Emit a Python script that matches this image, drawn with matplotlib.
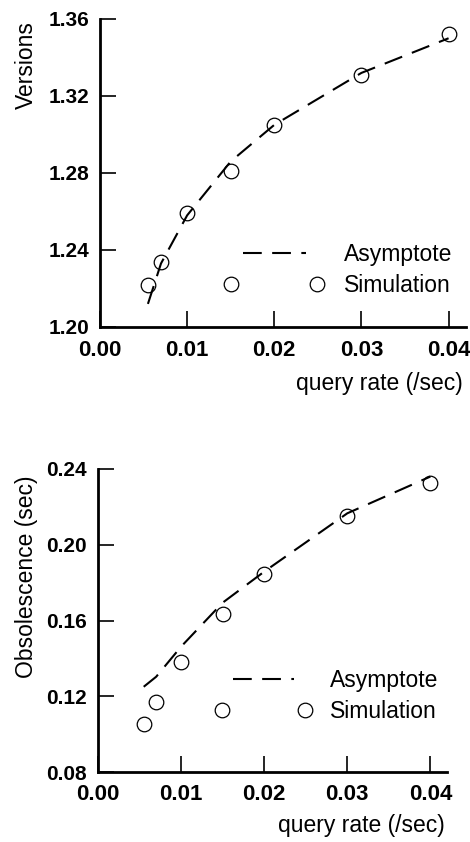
import matplotlib
matplotlib.use("Agg")
import matplotlib.pyplot as plt
from matplotlib.legend_handler import HandlerLine2D
import numpy as np

plt.rcParams['font.family'] = ['Liberation Sans', 'DejaVu Sans']

# ---- data ----
query_rate = [0.0055, 0.007, 0.010, 0.015, 0.020, 0.030, 0.040]

versions_sim = [1.222, 1.234, 1.259, 1.281, 1.305, 1.331, 1.352]
versions_asym = [1.212, 1.233, 1.258, 1.286, 1.305, 1.332, 1.350]

obsol_sim = [0.1055, 0.1171, 0.1380, 0.1635, 0.1844, 0.2150, 0.2324]
obsol_asym = [0.1250, 0.1303, 0.1462, 0.1694, 0.1858, 0.2166, 0.2360]

x_ticks = [0.00, 0.01, 0.02, 0.03, 0.04]
v_ticks = [1.20, 1.24, 1.28, 1.32, 1.36]
o_ticks = [0.08, 0.12, 0.16, 0.20, 0.24]

TXT = 16.5
YTICK = 15
XTICK = 16


class ShortLine(HandlerLine2D):
    def create_artists(self, legend, orig_handle, xdescent, ydescent,
                       width, height, fontsize, trans):
        arts = super().create_artists(legend, orig_handle, xdescent, ydescent,
                                      width, height, fontsize, trans)
        for a in arts:
            xd = np.asarray(a.get_xdata(), dtype=float)
            c = xd.mean()
            a.set_xdata(c + (xd - c) * 0.73)
        return arts


fig = plt.figure(figsize=(4.70, 8.42), dpi=100)

W, H = 470.0, 842.0


def make_ax(left, right, top, bottom):
    return fig.add_axes([left / W, (H - bottom) / H, (right - left) / W, (bottom - top) / H])


def style(ax, yticks, ylim, ylabel, ylab_coords, xlab_coords, leg_anchor, hl, htp):
    ax.set_xlim(0, 0.042)
    ax.set_ylim(*ylim)
    ax.set_xticks(x_ticks)
    ax.set_xticklabels([f"{t:.2f}" for t in x_ticks])
    ax.set_yticks(yticks)
    ax.set_yticklabels([f"{t:.2f}" for t in yticks])
    for s in ['top', 'right']:
        ax.spines[s].set_visible(False)
    for s in ['left', 'bottom']:
        ax.spines[s].set_linewidth(2.0)
    ax.tick_params(direction='in', length=11.5, width=1.2)
    ax.tick_params(axis='y', pad=8, labelsize=YTICK)
    ax.tick_params(axis='x', pad=9, labelsize=XTICK)
    for lab in ax.get_xticklabels() + ax.get_yticklabels():
        lab.set_fontweight('bold')
    ax.set_ylabel(ylabel, fontsize=TXT, va='center')
    ax.yaxis.set_label_coords(*ylab_coords)
    ax.set_xlabel("query rate (/sec)", fontsize=TXT, ha='right', va='center')
    ax.xaxis.set_label_coords(*xlab_coords)
    handles, labels = ax.get_legend_handles_labels()
    ax.legend(handles, labels, loc='upper left', bbox_to_anchor=leg_anchor,
              frameon=False, fontsize=TXT, numpoints=2, handlelength=hl,
              handletextpad=htp, borderpad=0, borderaxespad=0, labelspacing=0.33,
              handler_map={handles[0]: ShortLine()})


# ---- top panel ----
ax1 = make_ax(100, 466, 19, 327)
ax1.plot(query_rate, versions_asym, color='black', lw=1.5, dashes=(9, 5), label='Asymptote')
ax1.plot(query_rate, versions_sim, linestyle='none', marker='o', markersize=10.5,
         markerfacecolor='none', markeredgecolor='black', markeredgewidth=0.9, label='Simulation')
style(ax1, v_ticks, (1.20, 1.36), "Versions", (-0.200, 0.85), (0.992, -0.182),
      (0.339, 0.272), 4.37, 0.87)

# ---- bottom panel ----
ax2 = make_ax(98, 447, 469, 772)
ax2.plot(query_rate, obsol_asym, color='black', lw=1.5, dashes=(9, 5), label='Asymptote')
ax2.plot(query_rate, obsol_sim, linestyle='none', marker='o', markersize=10.5,
         markerfacecolor='none', markeredgecolor='black', markeredgewidth=0.9, label='Simulation')
style(ax2, o_ticks, (0.08, 0.24), "Obsolescence (sec)", (-0.204, 0.645), (0.994, -0.175),
      (0.335, 0.340), 4.24, 0.79)

fig.savefig("out.png", dpi=100)
